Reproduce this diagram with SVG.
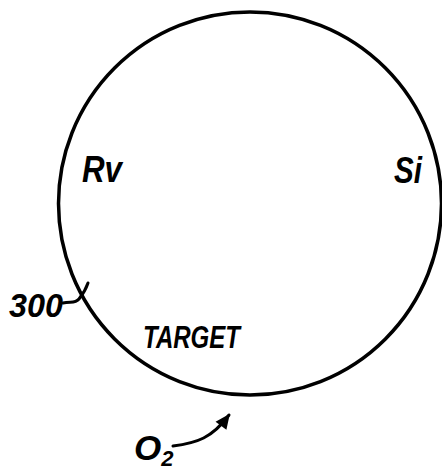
<svg xmlns="http://www.w3.org/2000/svg" width="442" height="473" viewBox="0 0 442 473">
<defs>
<style>
.t{font-family:"Liberation Sans",Arial,sans-serif;font-style:italic;font-weight:bold;fill:#000}
.ln{fill:none;stroke:#000;stroke-width:3;stroke-linecap:round}
</style>
<marker id="ah" viewBox="0 0 10 10" refX="9" refY="5" markerWidth="6" markerHeight="5" orient="auto" markerUnits="strokeWidth">
<path d="M0,0.5 L10,5 L0,9.5 Z" fill="#000"/>
</marker>
</defs>
<rect width="442" height="473" fill="#fff"/>
<g id="target">
<circle cx="250" cy="203.5" r="191.5" fill="none" stroke="#000" stroke-width="3.5"/>
<text class="t" x="143" y="348" font-size="32" textLength="97" lengthAdjust="spacingAndGlyphs">TARGET</text>
</g>
<g id="rv"><text class="t" x="82" y="182" font-size="37" textLength="40" lengthAdjust="spacingAndGlyphs">Rv</text></g>
<g id="si"><text class="t" x="394" y="183" font-size="37" textLength="28" lengthAdjust="spacingAndGlyphs">Si</text></g>
<g id="label300"><text class="t" x="9" y="317" font-size="33" textLength="54" lengthAdjust="spacingAndGlyphs">300</text></g>
<g id="o2"><text class="t" x="134" y="460" font-size="35">O<tspan font-size="22" dy="6">2</tspan></text></g>
<g id="connectors">
<path class="ln" d="M63,303 C70,301 75,304 79,299 C83,294 86,289 88,283"/>
<path class="ln" d="M173,446 C197,443 212,438 229,415" marker-end="url(#ah)"/>
</g>
</svg>
